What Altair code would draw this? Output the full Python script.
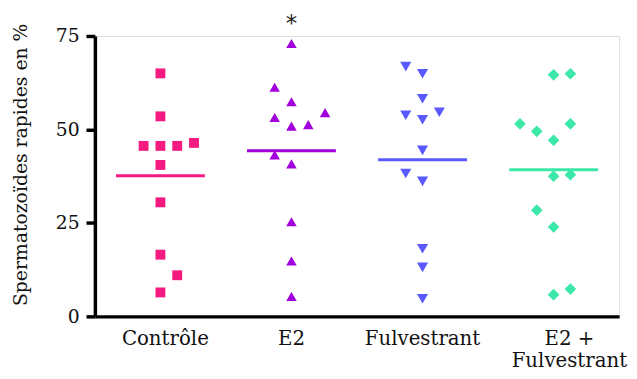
import altair as alt
import pandas as pd

# ---- data ----
groups = ["Contrôle", "E2", "Fulvestrant", "E2 +\nFulvestrant"]
colors = ["#F51A80", "#A100DC", "#5A58FF", "#3CE8A8"]
shapes = ["square", "triangle-up", "triangle-down", "diamond"]
sizes = [100, 140, 140, 140]

ctrl_vals = [65.0, 53.5, 45.6, 45.6, 45.6, 46.4, 40.5, 30.5, 16.5, 11.0, 6.4]
ctrl_slot = [0, 0, -1, 0, 1, 2, 0, 0, 0, 1, 0]
e2_vals = [73.0, 61.3, 57.4, 53.2, 54.5, 50.9, 51.3, 43.2, 40.8, 25.3, 14.8, 5.3]
e2_slot = [0, -1, 0, -1, 2, 0, 1, -1, 0, 0, 0, 0]
fulv_vals = [66.8, 64.9, 58.2, 53.8, 52.6, 54.6, 44.4, 38.2, 36.1, 18.1, 13.1, 4.7]
fulv_slot = [-1, 0, 0, -1, 0, 1, 0, -1, 0, 0, 0, 0]
e2f_vals = [64.6, 64.9, 51.5, 51.5, 49.5, 47.1, 37.5, 37.9, 28.4, 23.9, 5.8, 7.3]
e2f_slot = [0, 1, -2, 1, -1, 0, 0, 1, -1, 0, 0, 1]

means = [37.6, 44.3, 41.9, 39.2]

annot_group = ["E2"]
annot_text = ["*"]
annot_y = [76.3]

y_ticks = [0, 25, 50, 75]
y_title = "Spermatozoïdes rapides en %"

# ---- tables ----
rows = []
for g, vals, slots in zip(groups, [ctrl_vals, e2_vals, fulv_vals, e2f_vals],
                          [ctrl_slot, e2_slot, fulv_slot, e2f_slot]):
    for v, s in zip(vals, slots):
        rows.append({"group": g, "value": v, "slot": s})
points_df = pd.DataFrame(rows)
means_df = pd.DataFrame({"group": groups, "mean": means})
annot_df = pd.DataFrame({"group": annot_group, "text": annot_text, "y": annot_y})

x_scale = alt.Scale(type="band", domain=groups, paddingInner=0, paddingOuter=0)
y_scale = alt.Scale(domain=[0, 75], nice=False)
color_scale = alt.Scale(domain=groups, range=colors)
shape_scale = alt.Scale(domain=groups, range=shapes)
size_scale = alt.Scale(domain=groups, range=sizes)

label_off = {
    "condition": [
        {"test": "datum.value == 'Contrôle'", "value": 5},
        {"test": "indexof(datum.value, 'Fulvestrant') > 2", "value": 16},
    ],
    "value": 0,
}

x_axis = alt.Axis(
    title=None, ticks=False, domainColor="black", domainWidth=3.5,
    labelFont="DejaVu Serif", labelFontSize=20, labelColor="#111",
    labelPadding=13, labelAngle=0, labelLineHeight=22,
    labelExpr="split(datum.label, '\\n')", labelOffset=label_off,
)
y_axis = alt.Axis(
    values=y_ticks, title=y_title, grid=False,
    domainColor="black", domainWidth=3.5, tickColor="black", tickWidth=3.5,
    tickSize=9, labelFont="DejaVu Serif", labelFontSize=19, labelColor="#111",
    labelPadding=7, titleFont="DejaVu Serif", titleFontSize=19,
    titleFontWeight="normal", titleColor="#111", titleAngle=270,
    titleX=-75, titleY=130, titleAlign="center", titleBaseline="middle",
)

lines = alt.Chart(means_df).mark_tick(size=90, thickness=3, opacity=1).encode(
    x=alt.X("group:N", scale=x_scale, axis=x_axis, sort=groups),
    y=alt.Y("mean:Q", scale=y_scale, axis=y_axis),
    color=alt.Color("group:N", scale=color_scale, legend=None),
)

pts = alt.Chart(points_df).mark_point(filled=True, opacity=1, strokeWidth=0).encode(
    x=alt.X("group:N", scale=x_scale, sort=groups),
    xOffset=alt.XOffset("slot:Q", scale=alt.Scale(domain=[-3.9, 3.9])),
    y=alt.Y("value:Q", scale=y_scale),
    color=alt.Color("group:N", scale=color_scale, legend=None),
    shape=alt.Shape("group:N", scale=shape_scale, legend=None),
    size=alt.Size("group:N", scale=size_scale, legend=None),
)

star = alt.Chart(annot_df).mark_text(
    font="DejaVu Sans", fontSize=23, color="#222", baseline="alphabetic"
).encode(
    x=alt.X("group:N", scale=x_scale, sort=groups),
    y=alt.Y("y:Q", scale=y_scale),
    text="text:N",
)

chart = alt.layer(lines, pts, star).properties(
    width=531, height=284,
    autosize=alt.AutoSizeParams(type="none"),
    padding={"left": 88, "top": 26, "right": 10, "bottom": 53},
).configure_view(stroke=None).configure(background="white")

chart.save("out.html", embed_options={"renderer": "svg", "actions": False})
